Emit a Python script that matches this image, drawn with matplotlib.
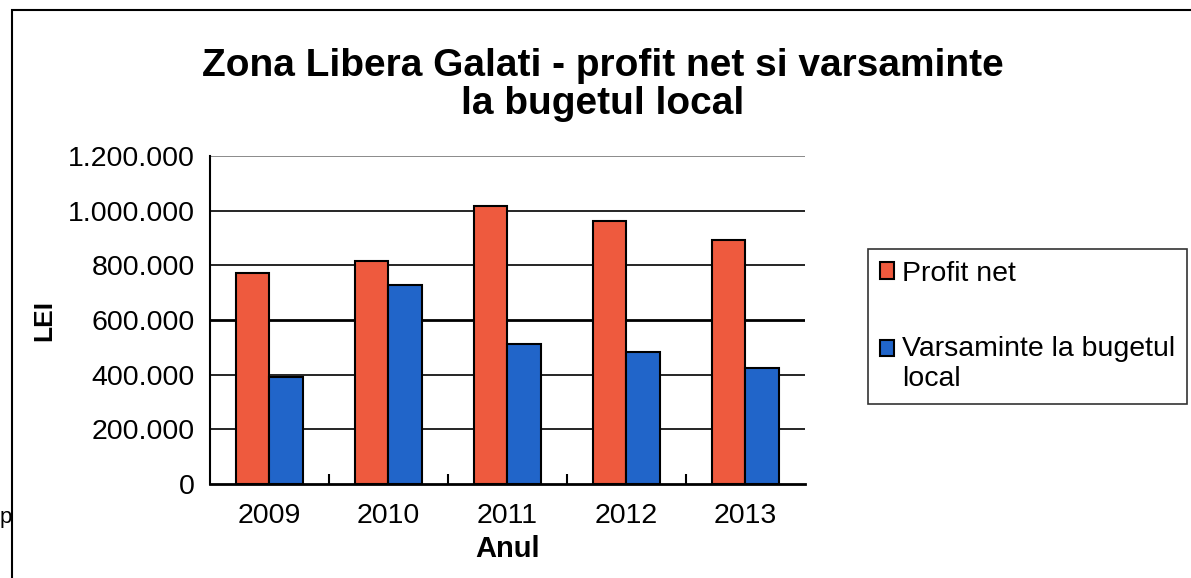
import matplotlib.pyplot as plt
import numpy as np
from matplotlib.patches import Rectangle
from matplotlib.legend_handler import HandlerPatch

plt.rcParams['font.family'] = ['Liberation Sans', 'DejaVu Sans']

years = ["2009", "2010", "2011", "2012", "2013"]
profit_net = [772000, 816000, 1016000, 963000, 894000]
varsaminte = [393000, 728000, 513000, 483000, 426000]
yticks = [0, 200000, 400000, 600000, 800000, 1000000, 1200000]
ytick_labels = ["0", "200.000", "400.000", "600.000", "800.000", "1.000.000", "1.200.000"]

red = "#EE5A3E"
blue = "#2165C9"

fig = plt.figure(figsize=(11.91, 5.78), dpi=100)
ax = fig.add_axes([0.1763, 0.1626, 0.4996, 0.5675])

x = np.arange(len(years))
w = 0.28
bp = ax.bar(x - w / 2, profit_net, w, color=red, edgecolor="black", linewidth=1.5,
            label="Profit net", zorder=3)
bv = ax.bar(x + w / 2, varsaminte, w, color=blue, edgecolor="black", linewidth=1.5,
            label="Varsaminte la bugetul\nlocal", zorder=3)

ax.set_xlim(-0.5, len(years) - 0.5)
ax.set_ylim(0, 1200000)
ax.set_yticks(yticks)
ax.set_yticklabels(ytick_labels, fontsize=20.5)
ax.set_xticks(x)
ax.set_xticklabels(years, fontsize=20.5)
ax.set_xticks(np.arange(0.5, len(years) - 0.5), minor=True)
ax.tick_params(axis="x", which="major", length=0, pad=14)
ax.tick_params(axis="x", which="minor", direction="in", length=7, width=1.5)
ax.tick_params(axis="y", length=0, pad=11)

for v in yticks[1:]:
    lw = 2.0 if v == 600000 else 1.2
    col = "#777777" if v == 1200000 else "black"
    ax.axhline(v, color=col, linewidth=lw, zorder=1)

for s in ["top", "right"]:
    ax.spines[s].set_visible(False)
ax.spines["left"].set_linewidth(1.5)
ax.spines["bottom"].set_linewidth(2)
ax.spines["bottom"].set_zorder(4)

ax.set_ylabel("LEI", fontsize=19, fontweight="bold", labelpad=8)
ax.set_xlabel("Anul", fontsize=21, fontweight="bold", labelpad=4)

fig.text(0.506, 0.853, "Zona Libera Galati - profit net si varsaminte\nla bugetul local",
         ha="center", va="center", fontsize=28, fontweight="bold", linespacing=1.1)


def top_line_patch(legend, orig_handle, xdescent, ydescent, width, height, fontsize):
    # put the square next to the first line of a two-line label
    return Rectangle((-xdescent, -ydescent + 0.58 * fontsize), width, height)


hp = bp.patches[0]
hv = bv.patches[0]
leg = ax.legend([hp, hv], ["Profit net", "Varsaminte la bugetul\nlocal"],
                loc="upper left", bbox_to_anchor=(0.729, 0.569), bbox_transform=fig.transFigure,
                fontsize=20.5, frameon=True, fancybox=False, edgecolor="black",
                handlelength=0.5, handleheight=0.5, handletextpad=0.3,
                labelspacing=1.75, borderpad=0.4, borderaxespad=0,
                handler_map={hv: HandlerPatch(patch_func=top_line_patch)})
leg.get_frame().set_linewidth(1.2)

# outer chart border (runs past the right and bottom edge of the scan)
fig.patches.append(Rectangle((0.010, -0.01), 1.0, 0.993, transform=fig.transFigure,
                             fill=False, edgecolor="black", linewidth=1.5))
fig.text(0.0, 0.095, "p", fontsize=16)

fig.savefig("out.png", dpi=100)
